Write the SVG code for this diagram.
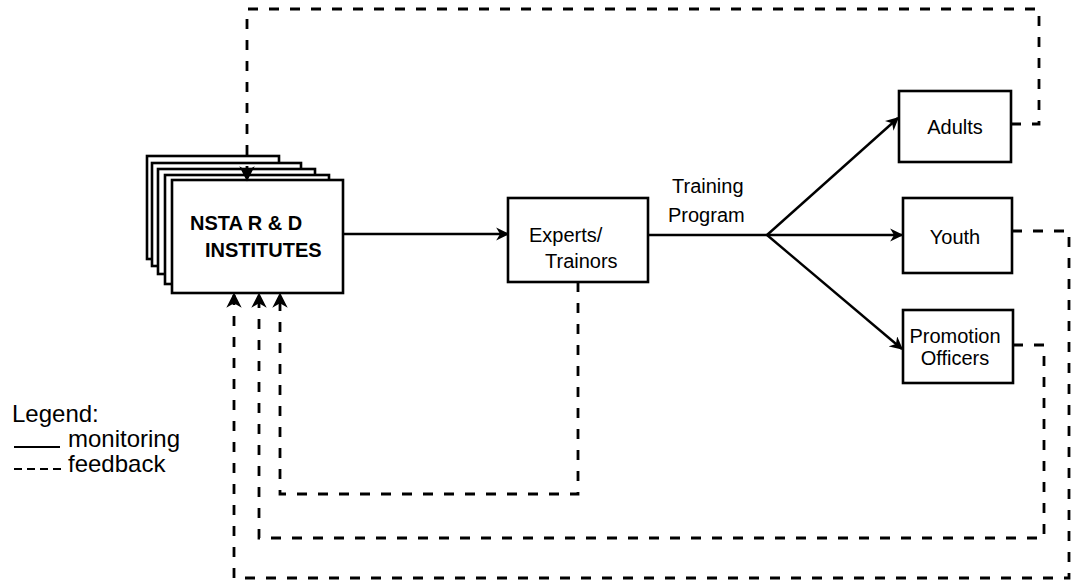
<svg xmlns="http://www.w3.org/2000/svg" width="1072" height="587" viewBox="0 0 1072 587">
  <style>
    .box { fill: #fff; stroke: #000; stroke-width: 2.6; }
    .flow { fill: none; stroke: #000; stroke-width: 2.4; }
    .fb { fill: none; stroke: #000; stroke-width: 2.8; stroke-dasharray: 10 11; }
    .lbl { font-family: "Liberation Sans", Arial, sans-serif; font-size: 20px; fill: #000; }
    .cap { font-family: "Liberation Sans", Arial, sans-serif; font-size: 20px; font-weight: bold; fill: #000; }
    .leg { font-family: "Liberation Sans", Arial, sans-serif; font-size: 24px; fill: #000; }
  </style>
  <defs>
    <marker id="arr" viewBox="0 0 10 10" refX="9" refY="5" markerWidth="5.5" markerHeight="5.5" orient="auto" markerUnits="strokeWidth">
      <path d="M0,0 L10,5 L0,10 L3,5 Z" fill="#000"/>
    </marker>
  </defs>
  <rect width="1072" height="587" fill="#fff"/>

  <!-- stacked institute cards -->
  <g id="nsta">
    <rect class="box" x="147" y="156" width="132" height="103"/>
    <rect class="box" x="152" y="163" width="149" height="103"/>
    <rect class="box" x="158" y="169" width="157" height="105"/>
    <rect class="box" x="165" y="175" width="164" height="109"/>
    <rect class="box" x="172" y="180" width="171" height="113"/>
    <text class="cap" x="190" y="230">NSTA R &amp; D</text>
    <text class="cap" x="205" y="257" font-size="17">INSTITUTES</text>
  </g>

  <g id="experts">
    <rect class="box" x="508" y="198" width="140" height="84"/>
    <text class="lbl" x="529" y="242">Experts/</text>
    <text class="lbl" x="545" y="268">Trainors</text>
  </g>

  <g id="adults">
    <rect class="box" x="899" y="91" width="112" height="71"/>
    <text class="lbl" x="955" y="134" text-anchor="middle" font-size="21">Adults</text>
  </g>

  <g id="youth">
    <rect class="box" x="903" y="198" width="109" height="75"/>
    <text class="lbl" x="955" y="244" text-anchor="middle" font-size="21">Youth</text>
  </g>

  <g id="promotion">
    <rect class="box" x="903" y="310" width="110" height="73"/>
    <text class="lbl" x="955" y="343" text-anchor="middle" font-size="17">Promotion</text>
    <text class="lbl" x="955" y="365" text-anchor="middle" font-size="17">Officers</text>
  </g>

  <g id="training-label">
    <text class="lbl" x="672" y="193">Training</text>
    <text class="lbl" x="668" y="222">Program</text>
  </g>

  <!-- monitoring flow (solid) and feedback loops (dashed) -->
  <g id="connectors">
    <path class="flow" d="M343,234 L508,234" marker-end="url(#arr)"/>
    <path class="flow" d="M648,235 L767,235"/>
    <path class="flow" d="M767,235 L898,118" marker-end="url(#arr)"/>
    <path class="flow" d="M767,235 L902,235" marker-end="url(#arr)"/>
    <path class="flow" d="M767,235 L902,349" marker-end="url(#arr)"/>

    <path class="fb" d="M1011,124 L1039,124 L1039,9 L247,9 L247,180" marker-end="url(#arr)"/>
    <path class="fb" d="M1012,231 L1069,231 L1069,578 L234,578 L234,294" marker-end="url(#arr)"/>
    <path class="fb" d="M1013,345 L1044,345 L1044,538 L259,538 L259,294" marker-end="url(#arr)"/>
    <path class="fb" d="M578,282 L578,494 L280,494 L280,294" marker-end="url(#arr)"/>
  </g>

  <g id="legend">
    <text class="leg" x="12" y="422">Legend:</text>
    <line x1="14" y1="447" x2="60" y2="447" stroke="#000" stroke-width="2.2"/>
    <text class="leg" x="68" y="447">monitoring</text>
    <line x1="14" y1="469" x2="64" y2="469" stroke="#000" stroke-width="2.2" stroke-dasharray="8 5"/>
    <text class="leg" x="68" y="472">feedback</text>
  </g>
</svg>
